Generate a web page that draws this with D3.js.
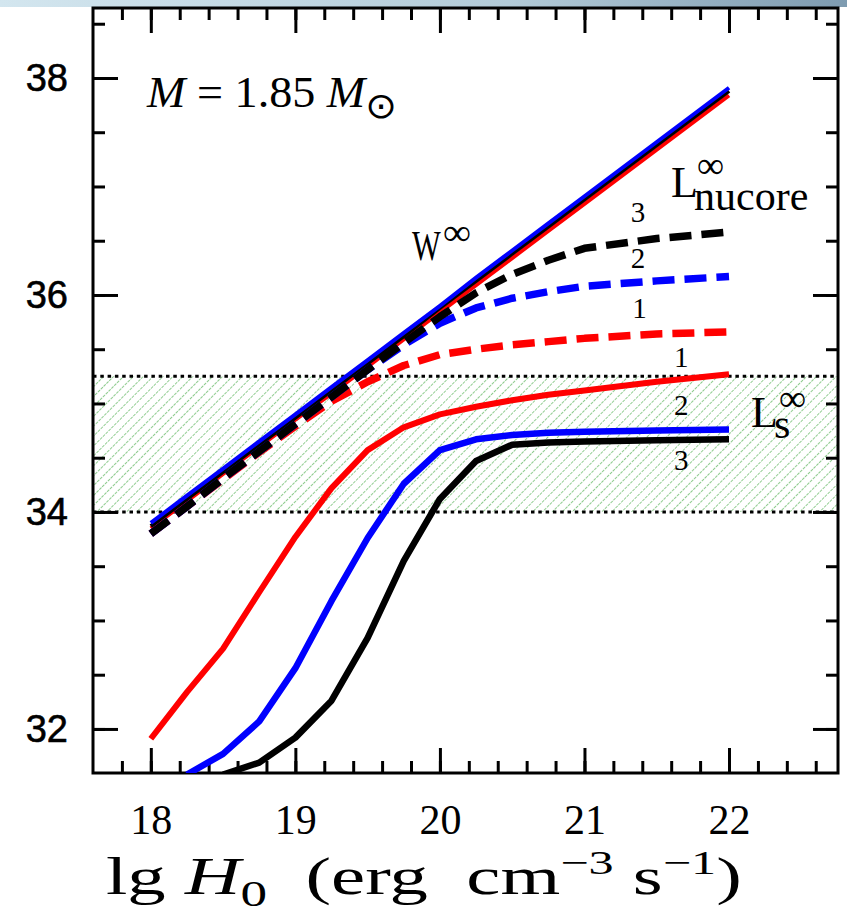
<!DOCTYPE html>
<html>
<head>
<meta charset="utf-8">
<script src="https://cdn.jsdelivr.net/npm/d3@7"></script>
<style>
  body { margin: 0; background: #fff; }
  svg { display: block; }
  text { white-space: pre; }
</style>
</head>
<body>
<svg id="chart" width="847" height="916"></svg>
<script>
// lg H0 grid (erg cm^-3 s^-1)
const lgH = [18, 18.25, 18.5, 18.75, 19, 19.25, 19.5, 19.75, 20, 20.25, 20.5, 20.75, 21, 21.5, 22];

// W^infinity, models 1 (red), 2 (blue), 3 (black)
const wRed   = [33.85, 34.10, 34.35, 34.60, 34.85, 35.09, 35.34, 35.59, 35.84, 36.09, 36.34, 36.59, 36.84, 37.34, 37.84];
const wBlack = [33.87, 34.12, 34.37, 34.62, 34.87, 35.12, 35.37, 35.62, 35.88, 36.13, 36.38, 36.63, 36.88, 37.38, 37.88];
const wBlue  = [33.90, 34.15, 34.40, 34.65, 34.90, 35.15, 35.40, 35.65, 35.90, 36.16, 36.41, 36.66, 36.91, 37.41, 37.91];

// L^infinity_nucore (dashed)
const nuRed   = [33.80, 34.05, 34.30, 34.55, 34.79, 35.02, 35.20, 35.35, 35.45, 35.50, 35.54, 35.57, 35.60, 35.64, 35.66];
const nuBlue  = [33.80, 34.05, 34.31, 34.56, 34.81, 35.06, 35.31, 35.54, 35.74, 35.88, 35.97, 36.03, 36.08, 36.13, 36.17];
const nuBlack = [33.80, 34.05, 34.31, 34.56, 34.81, 35.06, 35.31, 35.56, 35.80, 36.02, 36.19, 36.32, 36.43, 36.52, 36.58];

// L^infinity_s (solid)
const sRed   = [31.91, 32.34, 32.74, 33.26, 33.77, 34.22, 34.57, 34.78, 34.90, 34.97, 35.03, 35.08, 35.12, 35.20, 35.27];
const sBlue  = [null, 31.58, 31.77, 32.07, 32.56, 33.18, 33.76, 34.26, 34.57, 34.67, 34.71, 34.73, 34.74, 34.75, 34.76];
const sBlack = [null, null, 31.58, 31.69, 31.92, 32.26, 32.84, 33.55, 34.12, 34.47, 34.62, 34.64, 34.65, 34.66, 34.67];

// shaded band of observed L_s
const bandLow = 34.0, bandHigh = 35.25;

const xMajor = [18, 19, 20, 21, 22];
const xMinor = d3.range(17.8, 22.75, 0.2).map(v => +v.toFixed(1));
const yMajor = [32, 34, 36, 38];
const yMinor = d3.range(32, 38.6, 0.5);

// model numbers next to curve ends: [label, lgH, value]
const nuLabels = [["3", 21.37, 36.67], ["2", 21.37, 36.25], ["1", 21.38, 35.79]];
const sLabels  = [["1", 21.67, 35.34], ["2", 21.67, 34.89], ["3", 21.67, 34.39]];

const pl = 93, pr = 838, pt = 8, pb = 773;
const W = 847, H = 916;

const svg = d3.select("#chart");
const defs = svg.append("defs");

const grad = defs.append("linearGradient").attr("id", "band");
grad.append("stop").attr("offset", "0%").attr("stop-color", "#d3e6ef");
grad.append("stop").attr("offset", "60%").attr("stop-color", "#b3cbd8");
grad.append("stop").attr("offset", "100%").attr("stop-color", "#7e9bb0");
svg.append("rect").attr("width", W).attr("height", 7).attr("fill", "url(#band)");

const hatch = defs.append("pattern")
    .attr("id", "hatch")
    .attr("patternUnits", "userSpaceOnUse")
    .attr("width", 8).attr("height", 7)
    .attr("patternTransform", "rotate(-45)");
hatch.append("line")
    .attr("x1", 0).attr("y1", 3.5).attr("x2", 8).attr("y2", 3.5)
    .attr("stroke", "#90cc90").attr("stroke-width", 1)
    .attr("stroke-dasharray", "3,1");

defs.append("clipPath").attr("id", "plot")
  .append("rect").attr("x", pl).attr("y", pt)
  .attr("width", pr - pl).attr("height", pb - pt);

const x = d3.scaleLinear().domain([17.6, 22.754]).range([pl, pr]);
const y = d3.scaleLinear().domain([31.594, 38.645]).range([pb, pt]);

// band
svg.append("rect")
    .attr("x", pl).attr("width", pr - pl)
    .attr("y", y(bandHigh)).attr("height", y(bandLow) - y(bandHigh))
    .attr("fill", "url(#hatch)");
[bandLow, bandHigh].forEach(v => {
  svg.append("line")
      .attr("x1", pl).attr("x2", pr)
      .attr("y1", y(v)).attr("y2", y(v))
      .attr("stroke", "#000").attr("stroke-width", 3)
      .attr("stroke-dasharray", "3.5,3.8");
});

// axes (ticks pointing inward on all four sides)
function ticks(axis, transform, size, values, labels) {
  const g = svg.append("g").attr("transform", transform)
      .call(axis.tickValues(values).tickSize(-size)
          .tickFormat(labels ? d3.format("d") : ""));
  g.select(".domain").remove();
  g.selectAll(".tick line").attr("stroke", "#000").attr("stroke-width", 3);
  return g;
}
ticks(d3.axisBottom(x), `translate(0,${pb})`, 12, xMinor, false);
ticks(d3.axisTop(x), `translate(0,${pt})`, 12, xMinor, false);
const gx = ticks(d3.axisBottom(x).tickPadding(31), `translate(0,${pb})`, 25, xMajor, true);
ticks(d3.axisTop(x), `translate(0,${pt})`, 25, xMajor, false);

ticks(d3.axisLeft(y), `translate(${pl},0)`, 12, yMinor, false);
ticks(d3.axisRight(y), `translate(${pr},0)`, 12, yMinor, false);
const gy = ticks(d3.axisLeft(y).tickPadding(25), `translate(${pl},0)`, 25, yMajor, true);
ticks(d3.axisRight(y), `translate(${pr},0)`, 25, yMajor, false);

gx.selectAll("text")
    .attr("font-family", "Liberation Serif").attr("font-size", 42).attr("fill", "#000");
gy.selectAll("text")
    .attr("font-family", "Liberation Sans").attr("font-size", 38).attr("fill", "#000")
    .attr("stroke", "#000").attr("stroke-width", 0.6);

svg.append("rect")
    .attr("x", pl).attr("y", pt)
    .attr("width", pr - pl).attr("height", pb - pt)
    .attr("fill", "none").attr("stroke", "#000").attr("stroke-width", 3);

// curves
const line = d3.line()
    .defined(d => d[1] != null)
    .x(d => x(d[0])).y(d => y(d[1]));

const curves = svg.append("g").attr("clip-path", "url(#plot)");
function draw(vals, color, width, dash) {
  curves.append("path")
      .datum(lgH.map((h, i) => [h, vals[i]]))
      .attr("d", line)
      .attr("fill", "none")
      .attr("stroke", color)
      .attr("stroke-width", width)
      .attr("stroke-linejoin", "round")
      .attr("stroke-dasharray", dash || null);
}
draw(wRed, "#ff0000", 4);
draw(wBlack, "#000000", 4);
draw(wBlue, "#0000ff", 4);
draw(nuRed, "#ff0000", 7.5, "22,10");
draw(nuBlue, "#0000ff", 7.5, "22,10");
draw(nuBlack, "#000000", 7.5, "22,10");
draw(sRed, "#ff0000", 6);
draw(sBlue, "#0000ff", 6.5);
draw(sBlack, "#000000", 6.5);

// model numbers
svg.append("g").selectAll("text")
  .data(nuLabels.concat(sLabels))
  .join("text")
    .attr("x", d => x(d[1])).attr("y", d => y(d[2]))
    .attr("text-anchor", "middle")
    .attr("font-family", "Liberation Serif").attr("font-size", 29)
    .attr("fill", "#000")
    .text(d => d[0]);

// text stretched to the width seen in the figure
function stretch(t, x0, x1) {
  const b = t.node().getBBox();
  const k = (x1 - x0) / b.width;
  t.attr("transform", `translate(${x0 - b.x * k},0) scale(${k},1)`);
  return t;
}
function rich(parts, base, size) {
  const t = svg.append("text")
      .attr("x", 0).attr("y", base)
      .attr("font-family", "Liberation Serif")
      .attr("font-size", size)
      .attr("fill", "#000");
  parts.forEach(p => {
    const s = t.append("tspan").text(p.t);
    if (p.italic) s.attr("font-style", "italic");
    if (p.dy) s.attr("dy", p.dy);
    if (p.size) s.attr("font-size", p.size);
    if (p.family) s.attr("font-family", p.family);
  });
  return t;
}

stretch(rich([
  { t: "M", italic: true },
  { t: " = 1.85 " },
  { t: "M", italic: true },
  { t: "⊙", dy: 11, size: 36, family: "DejaVu Sans" }
], 107, 44), 146, 397);

stretch(rich([{ t: "W" }], 260, 42), 412, 441);
stretch(rich([{ t: "∞" }], 245, 38), 443, 471);

// stacked super/subscript labels, one text each
function stacked(base, sup, sub, xL, yL, xSup, ySup, xSub, ySub) {
  const t = svg.append("text")
      .attr("font-family", "Liberation Serif")
      .attr("fill", "#000");
  t.append("tspan").attr("x", xL).attr("y", yL).attr("font-size", 44).text(base);
  t.append("tspan").attr("x", xSup).attr("y", ySup).attr("font-size", 38).text(sup);
  if (sub) t.append("tspan").attr("x", xSub).attr("y", ySub).attr("font-size", 42).text(sub);
  return t;
}
stacked("L", "∞", "nucore", 671, 197, 697, 178, 694, 210);
stacked("L", "∞", "s", 751, 427, 779, 411, 774, 438);

stretch(rich([
  { t: "lg " },
  { t: "H", italic: true },
  { t: "0", dy: 12, size: 36 },
  { t: "  (erg  cm", dy: -12 },
  { t: "−3", dy: -20, size: 34 },
  { t: " s", dy: 20 },
  { t: "−1", dy: -20, size: 34 },
  { t: ")", dy: 20 }
], 894, 52), 106, 742);
</script>
</body>
</html>
